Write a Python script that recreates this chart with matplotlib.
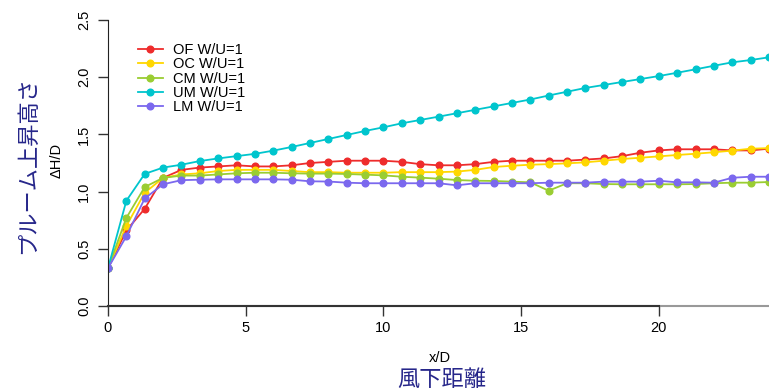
import matplotlib
matplotlib.use("Agg")
import matplotlib.pyplot as plt
import numpy as np

plt.rcParams['font.family'] = ['Liberation Sans', 'DejaVu Sans']

# x/D positions (step 2/3)
x = np.arange(37) * 2.0 / 3.0

of_w = [0.33, 0.66, 0.85, 1.12, 1.19, 1.21, 1.22, 1.23, 1.22, 1.22, 1.23, 1.25, 1.26, 1.27,
        1.27, 1.27, 1.26, 1.24, 1.23, 1.23, 1.24, 1.26, 1.27, 1.27, 1.27, 1.27, 1.28, 1.29,
        1.31, 1.34, 1.36, 1.37, 1.37, 1.37, 1.36, 1.36, 1.375]
oc_w = [0.33, 0.70, 0.99, 1.12, 1.15, 1.16, 1.18, 1.19, 1.19, 1.19, 1.18, 1.17, 1.17, 1.165,
        1.165, 1.165, 1.17, 1.17, 1.17, 1.175, 1.19, 1.215, 1.226, 1.235, 1.24, 1.247, 1.256,
        1.27, 1.285, 1.296, 1.308, 1.32, 1.331, 1.344, 1.358, 1.375, 1.38]
cm_w = [0.33, 0.77, 1.04, 1.12, 1.14, 1.14, 1.15, 1.16, 1.165, 1.165, 1.16, 1.157, 1.157, 1.154,
        1.148, 1.142, 1.13, 1.122, 1.113, 1.101, 1.095, 1.093, 1.087, 1.081, 1.008, 1.073, 1.073,
        1.066, 1.064, 1.064, 1.064, 1.064, 1.066, 1.073, 1.078, 1.078, 1.084]
um_w = [0.33, 0.92, 1.155, 1.21, 1.235, 1.267, 1.29, 1.31, 1.33, 1.358, 1.39, 1.425, 1.46, 1.495,
        1.53, 1.562, 1.597, 1.626, 1.655, 1.685, 1.715, 1.745, 1.775, 1.805, 1.84, 1.873, 1.906,
        1.932, 1.958, 1.984, 2.01, 2.039, 2.069, 2.10, 2.13, 2.15, 2.174]
lm_w = [0.33, 0.61, 0.94, 1.064, 1.10, 1.104, 1.107, 1.107, 1.107, 1.107, 1.104, 1.09, 1.088, 1.078,
        1.073, 1.073, 1.073, 1.073, 1.073, 1.055, 1.073, 1.073, 1.073, 1.073, 1.078, 1.078, 1.078,
        1.087, 1.087, 1.087, 1.095, 1.081, 1.081, 1.078, 1.121, 1.13, 1.13]

series = [("OF W/U=1", of_w, "#ee2c2c"),
          ("OC W/U=1", oc_w, "#ffd700"),
          ("CM W/U=1", cm_w, "#9acd32"),
          ("UM W/U=1", um_w, "#00c5cd"),
          ("LM W/U=1", lm_w, "#7b68ee")]

navy = '#26268a'
jp = ['Noto Sans CJK JP', 'DejaVu Sans']

fig = plt.figure(figsize=(7.69, 3.90), dpi=100)
ax = fig.add_axes([108 / 769, (390 - 306) / 390, 1 - 108 / 769, (306 - 20) / 390])

for name, vals, col in series:
    ax.plot(x, vals, color=col, lw=1.3, marker='o', ms=4.8, mec=col, mfc=col, label=name)

ax.set_xlim(0, 24.0)
ax.set_ylim(0, 2.5)
ax.set_xticks([0, 5, 10, 15, 20])
ax.set_yticks([0.0, 0.5, 1.0, 1.5, 2.0, 2.5])
ax.set_yticklabels(["0.0", "0.5", "1.0", "1.5", "2.0", "2.5"], rotation=90, va='center')
ax.tick_params(axis='both', direction='out', length=7, width=1, labelsize=10.5, color='#333333')
ax.tick_params(axis='y', pad=5)
ax.tick_params(axis='x', pad=4)

for s in ['top', 'right']:
    ax.spines[s].set_visible(False)
ax.spines['left'].set_color('#222222')
ax.spines['bottom'].set_color('#999999')
ax.spines['bottom'].set_linewidth(1.5)
# darker axis line between first and last x tick
ax.plot([0, 20], [0, 0], color='#333333', lw=1.5, clip_on=False, zorder=5)

leg = ax.legend(loc='upper left', bbox_to_anchor=(0.034, 0.945), frameon=False, fontsize=10.5,
                handlelength=1.7, handletextpad=0.7, labelspacing=0.02, borderpad=0)

fig.text(0.572, 1 - 358 / 390, "x/D", ha='center', va='center', fontsize=10.5)
fig.text(0.575, 1 - 379 / 390, "風下距離", ha='center', va='center', fontsize=16,
         color=navy, family=jp)
fig.text(57 / 769, 1 - 160 / 390, "ΔH/D", ha='center', va='center', fontsize=10.5, rotation=90)
fig.text(28 / 769, 1 - 165 / 390, "プルーム上昇高さ", ha='center', va='center', fontsize=16,
         color=navy, rotation=90, family=jp)

fig.savefig("out.png", dpi=100)
